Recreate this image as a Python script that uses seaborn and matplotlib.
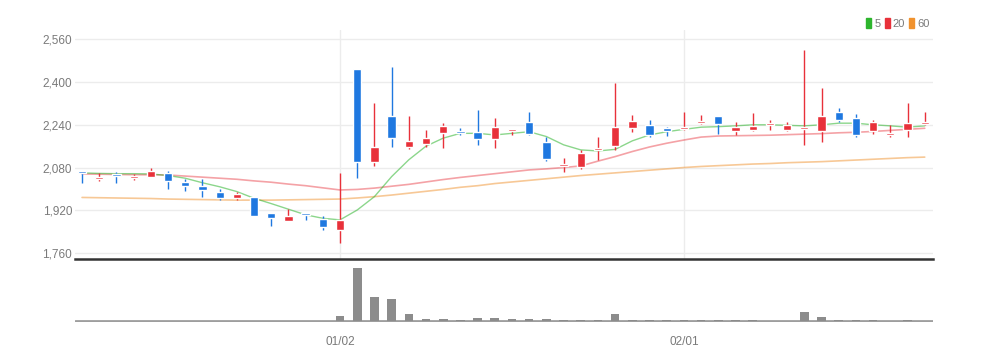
import matplotlib
matplotlib.use('Agg')
import matplotlib.pyplot as plt
from matplotlib.patches import Patch
import seaborn as sns
import pandas as pd
import numpy as np

# daily candles (50 sessions)
open_ = [2068, 2036, 2052, 2040, 2046, 2061, 2027, 2011, 1988, 1965,
         1971, 1909, 1880, 1911, 1887, 1847, 2449, 2102, 2274, 2156,
         2168, 2211, 2218, 2212, 2187, 2216, 2250, 2177, 2086, 2081,
         2146, 2161, 2229, 2240, 2227, 2223, 2246, 2274, 2218, 2221,
         2238, 2221, 2223, 2217, 2289, 2265, 2215, 2202, 2221, 2243]
high = [2068, 2060, 2065, 2055, 2077, 2068, 2036, 2036, 1999, 1990,
        1971, 1909, 1924, 1911, 1897, 2061, 2449, 2321, 2455, 2274,
        2221, 2246, 2227, 2296, 2265, 2224, 2289, 2196, 2115, 2146,
        2196, 2395, 2277, 2258, 2233, 2289, 2277, 2274, 2252, 2283,
        2258, 2252, 2520, 2379, 2302, 2281, 2258, 2240, 2323, 2286]
low = [2023, 2030, 2021, 2034, 2046, 2000, 1994, 1971, 1959, 1959,
       1898, 1862, 1880, 1884, 1847, 1799, 2040, 2086, 2158, 2150,
       2158, 2152, 2202, 2165, 2152, 2202, 2202, 2106, 2065, 2074,
       2109, 2146, 2214, 2196, 2198, 2221, 2242, 2205, 2202, 2218,
       2221, 2218, 2165, 2177, 2252, 2196, 2205, 2196, 2193, 2239]
close = [2060, 2046, 2047, 2046, 2068, 2031, 2009, 1996, 1965, 1980,
         1900, 1890, 1900, 1903, 1859, 1884, 2102, 2155, 2190, 2180,
         2192, 2236, 2211, 2186, 2233, 2224, 2205, 2111, 2093, 2134,
         2153, 2231, 2254, 2202, 2218, 2229, 2254, 2243, 2233, 2236,
         2246, 2240, 2229, 2273, 2258, 2202, 2252, 2211, 2248, 2252]
volume = [0, 0, 0, 0, 0, 0, 0, 0, 0, 0,
          0, 0, 0, 0, 0, 5000, 53000, 24000, 22500, 7500,
          2500, 2500, 1500, 3500, 3500, 2000, 2000, 2000, 1500, 1500,
          1500, 7500, 1500, 1500, 1500, 1000, 1500, 1500, 1500, 1500,
          500, 500, 9000, 4000, 1500, 1500, 1500, 500, 1500, 500]

ma5 = [2060, 2058, 2057, 2057, 2056, 2050, 2040, 2023, 2008, 1990,
       1965, 1945, 1924, 1903, 1890, 1884, 1921, 1971, 2046, 2109,
       2160, 2190, 2208, 2208, 2202, 2208, 2214, 2196, 2165, 2146,
       2142, 2148, 2180, 2202, 2214, 2223, 2231, 2233, 2236, 2240,
       2240, 2238, 2236, 2240, 2246, 2246, 2240, 2236, 2231, 2236]
ma20 = [2056, 2055, 2054, 2053, 2053, 2052, 2048, 2044, 2040, 2036,
        2030, 2025, 2018, 2012, 2004, 1996, 1998, 2003, 2010, 2017,
        2026, 2035, 2043, 2050, 2057, 2064, 2071, 2075, 2080, 2086,
        2104, 2121, 2140, 2157, 2171, 2183, 2194, 2198, 2199, 2200,
        2201, 2203, 2205, 2207, 2210, 2212, 2215, 2219, 2223, 2227]
ma60 = [1968, 1967, 1966, 1965, 1964, 1962, 1961, 1960, 1959, 1958,
        1958, 1958, 1959, 1960, 1961, 1962, 1966, 1971, 1977, 1984,
        1991, 1998, 2006, 2012, 2020, 2026, 2032, 2038, 2044, 2050,
        2055, 2060, 2065, 2070, 2075, 2080, 2084, 2087, 2090, 2093,
        2095, 2098, 2100, 2102, 2105, 2108, 2111, 2114, 2117, 2119]

date_ticks = [15, 35]
date_labels = ['01/02', '02/01']
price_ticks = [1760, 1920, 2080, 2240, 2400, 2560]

UP = '#e8313a'
DOWN = '#1f78e0'
MA_COLORS = {'5': '#2db52d', '20': '#e8313a', '60': '#f0922e'}
TEXT = '#7a7a7a'

sns.set_style('white')
plt.rcParams['font.family'] = ['Liberation Sans Narrow', 'Liberation Sans', 'DejaVu Sans']

df = pd.DataFrame({'i': np.arange(len(close)), 'open': open_, 'high': high,
                   'low': low, 'close': close, 'volume': volume,
                   'ma5': ma5, 'ma20': ma20, 'ma60': ma60})

W, H = 986, 361
fig = plt.figure(figsize=(W / 100, H / 100), dpi=100)
ax = fig.add_axes([75 / W, 1 - 259 / H, 858 / W, 229 / H])
vax = fig.add_axes([75 / W, 1 - 322 / H, 858 / W, 61 / H])

# price panel
for v in price_ticks:
    ax.axhline(v, color='#ececec', lw=1, zorder=0)
for t in date_ticks:
    ax.axvline(t, color='#ececec', lw=1, zorder=0)

sns.lineplot(data=df, x='i', y='ma60', ax=ax, color=MA_COLORS['60'], alpha=0.5, lw=1.2, zorder=2)
sns.lineplot(data=df, x='i', y='ma20', ax=ax, color=MA_COLORS['20'], alpha=0.45, lw=1.2, zorder=2)
sns.lineplot(data=df, x='i', y='ma5', ax=ax, color=MA_COLORS['5'], alpha=0.55, lw=1.0, zorder=2)

colors = [UP if c >= o else DOWN for o, c in zip(df['open'], df['close'])]
ax.vlines(df['i'], df['low'], df['high'], colors=colors, lw=1, zorder=3)
body = (df['close'] - df['open']).abs().clip(lower=7)
ax.bar(df['i'], body, bottom=df[['open', 'close']].min(axis=1), width=0.48,
       color=colors, zorder=4)

ax.set_xlim(-0.41, 49.48)
ax.set_ylim(1737.6, 2594.8)
ax.set_yticks(price_ticks)
ax.set_yticklabels([f'{v:,}' for v in price_ticks], color=TEXT, fontsize=8.5)
ax.tick_params(axis='y', length=0, pad=2)
ax.set_xticks([])
ax.set_xlabel('')
ax.set_ylabel('')
for s in ['top', 'right', 'left']:
    ax.spines[s].set_visible(False)
ax.spines['bottom'].set_color('#333333')
ax.spines['bottom'].set_linewidth(1.8)

# volume panel
vax.axhline(0, color='#9e9e9e', lw=2, zorder=1)
sns.barplot(data=df, x='i', y='volume', ax=vax, native_scale=True,
            color='#8c8c8c', width=0.5, saturation=1, linewidth=0, zorder=3)
vax.set_xlim(-0.41, 49.48)
vax.set_ylim(-800, 60000)
vax.set_yticks([])
vax.set_xticks(date_ticks)
vax.set_xticklabels(date_labels, color=TEXT, fontsize=8.5)
vax.tick_params(axis='x', length=5, width=1, color='#444444', pad=5)
vax.set_xlabel('')
vax.set_ylabel('')
for s in vax.spines.values():
    s.set_visible(False)

handles = [Patch(color=c, label=k) for k, c in MA_COLORS.items()]
fig.legend(handles=handles, loc='upper right', bbox_to_anchor=(934 / W, 1 - 14 / H),
           ncol=3, frameon=False, fontsize=8, labelcolor=TEXT,
           handlelength=0.45, handleheight=1.0, handletextpad=0.25,
           columnspacing=0.4, borderaxespad=0)

fig.savefig('out.png', dpi=100)
